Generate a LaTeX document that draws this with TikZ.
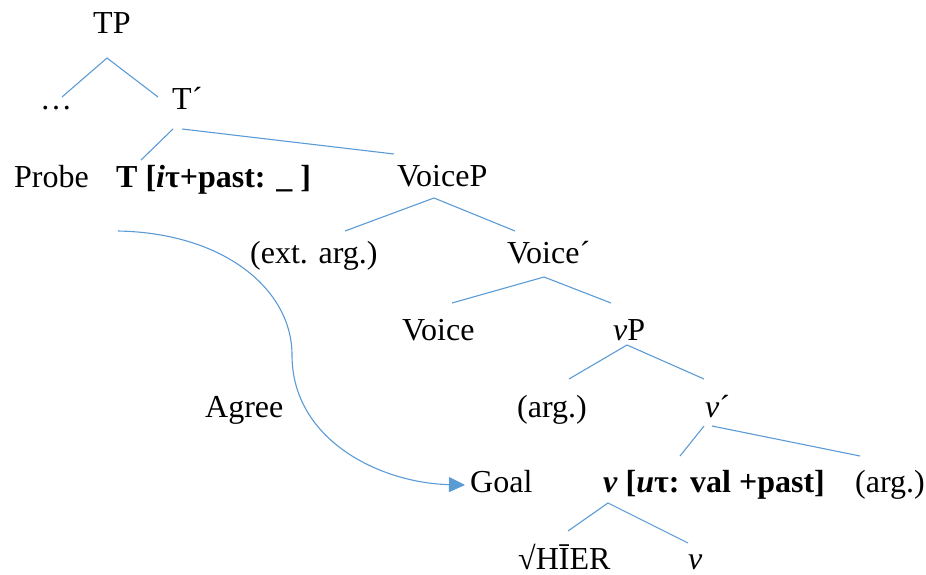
\documentclass[tikz,border=0pt]{standalone}
\usepackage{fontspec}
\setmainfont{Liberation Serif}
\usetikzlibrary{arrows.meta}
\definecolor{lineblue}{HTML}{5B9BD5}
\begin{document}
\begin{tikzpicture}[x=1pt,y=-1pt,
  lbl/.style={anchor=base west,inner sep=0pt,font=\fontsize{32}{38}\selectfont},
  br/.style={draw=lineblue,line width=1.1pt},
  agree/.style={draw=lineblue,line width=1.1pt,-{Triangle[length=16pt,width=15pt]}}]
\useasboundingbox (0,0) rectangle (926,575);
% labels
\node[lbl] (TP) at (93,34) {TP};
\node[lbl] (dots) at (40,110) {…};
\node[lbl] (Tbar) at (172,110) {T´};
\node[lbl] (Probe) at (14,187) {Probe};
\node[lbl] (T) at (116,187) {\textbf{T [\textit{i}τ+past: \_ ]}};
\node[lbl] (VoiceP) at (397,186) {VoiceP};
\node[lbl] (ext) at (250,263) {(ext. arg.)};
\node[lbl] (Voicebar) at (507,263) {Voice´};
\node[lbl] (Voice) at (402,340) {Voice};
\node[lbl] (vP) at (613,340) {\textit{v}P};
\node[lbl] (arg1) at (517,417) {(arg.)};
\node[lbl] (vbar) at (705,417) {\textit{v}´};
\node[lbl] (Agree) at (205,417) {Agree};
\node[lbl] (Goal) at (470,492) {Goal};
\node[lbl] (v) at (603,492) {\textbf{\textit{v} [\textit{u}τ: val +past]}};
\node[lbl] (arg2) at (855,492) {(arg.)};
\node[lbl] (root) at (518,569) {√HĪER};
\node[lbl] (vlow) at (688,569) {\textit{v}};
% branch points
\coordinate (tpA) at (107,58);
\coordinate (tpL) at (62,97);
\coordinate (tpR) at (158,97);
\coordinate (tbA1) at (173,129);
\coordinate (tbL) at (141,160);
\coordinate (tbA2) at (182,129);
\coordinate (tbR) at (394,154);
\coordinate (vpA) at (434,198);
\coordinate (vpL) at (345,231);
\coordinate (vpR) at (515,231);
\coordinate (vbA) at (544,277);
\coordinate (vbL) at (452,303);
\coordinate (vbR) at (611,303);
\coordinate (lvpA) at (627,345);
\coordinate (lvpL) at (569,379);
\coordinate (lvpR) at (704,379);
\coordinate (lvbA1) at (704,426);
\coordinate (lvbL) at (680,456);
\coordinate (lvbA2) at (712,426);
\coordinate (lvbR) at (860,456);
\coordinate (vA) at (608,503);
\coordinate (vL) at (568,531);
\coordinate (vR) at (688,543);
\coordinate (agS) at (118,231);
\coordinate (agM) at (292,355);
\coordinate (agE) at (465,485);
% branches
\draw[br] (tpL) -- (tpA) -- (tpR);
\draw[br] (tbL) -- (tbA1);
\draw[br] (tbA2) -- (tbR);
\draw[br] (vpL) -- (vpA) -- (vpR);
\draw[br] (vbL) -- (vbA) -- (vbR);
\draw[br] (lvpL) -- (lvpA) -- (lvpR);
\draw[br] (lvbL) -- (lvbA1);
\draw[br] (lvbA2) -- (lvbR);
\draw[br] (vL) -- (vA) -- (vR);
% agree arrow
\draw[agree] (agS) .. controls (225,233) and (292,290) .. (agM) .. controls (292,440) and (380,483) .. (agE);
\end{tikzpicture}
\end{document}
